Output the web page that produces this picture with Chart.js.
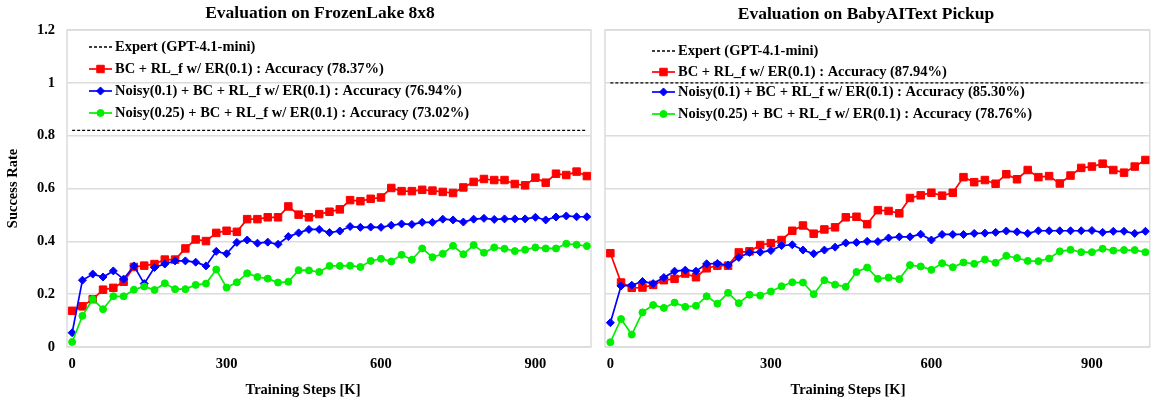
<!DOCTYPE html>
<html>
<head>
<meta charset="utf-8">
<script src="https://cdn.jsdelivr.net/npm/chart.js@4.4.1/dist/chart.umd.min.js"></script>
<style>
  html, body { margin: 0; padding: 0; background: #fff; }
  .box { position: absolute; left: 0; top: 0; width: 1156px; height: 403px; }
</style>
</head>
<body>
<div class="box"><canvas id="lake"></canvas></div>
<div class="box"><canvas id="baby"></canvas></div>
<script>
// training steps [K]
const STEPS = [0, 20, 40, 60, 80, 100, 120, 140, 160, 180, 200, 220, 240, 260, 280, 300, 320, 340, 360, 380,
  400, 420, 440, 460, 480, 500, 520, 540, 560, 580, 600, 620, 640, 660, 680, 700, 720, 740, 760, 780,
  800, 820, 840, 860, 880, 900, 920, 940, 960, 980, 1000];
const X_TICKS = [0, 300, 600, 900];

// FrozenLake 8x8
const EXPERT_LAKE = 0.82;
const LAKE_BC = [0.137, 0.154, 0.181, 0.217, 0.224, 0.247, 0.303, 0.308, 0.314, 0.331,
  0.331, 0.373, 0.407, 0.401, 0.432, 0.440, 0.436, 0.484, 0.484, 0.491,
  0.491, 0.532, 0.501, 0.491, 0.503, 0.512, 0.521, 0.556, 0.552, 0.561,
  0.566, 0.602, 0.590, 0.590, 0.595, 0.592, 0.587, 0.583, 0.604, 0.625,
  0.636, 0.632, 0.632, 0.617, 0.612, 0.641, 0.622, 0.656, 0.651, 0.664, 0.647];
const LAKE_N10 = [0.054, 0.253, 0.276, 0.265, 0.288, 0.257, 0.307, 0.240, 0.301, 0.314,
  0.326, 0.326, 0.321, 0.307, 0.362, 0.353, 0.396, 0.405, 0.393, 0.397,
  0.389, 0.418, 0.432, 0.445, 0.445, 0.433, 0.439, 0.456, 0.453, 0.454,
  0.453, 0.461, 0.466, 0.464, 0.472, 0.472, 0.484, 0.481, 0.473, 0.484,
  0.487, 0.483, 0.485, 0.485, 0.485, 0.491, 0.481, 0.492, 0.496, 0.493, 0.493];
const LAKE_N25 = [0.019, 0.118, 0.181, 0.143, 0.192, 0.192, 0.217, 0.229, 0.216, 0.241,
  0.219, 0.219, 0.235, 0.240, 0.293, 0.225, 0.245, 0.279, 0.265, 0.259,
  0.244, 0.247, 0.291, 0.290, 0.284, 0.307, 0.307, 0.308, 0.303, 0.326,
  0.334, 0.324, 0.349, 0.330, 0.373, 0.340, 0.353, 0.383, 0.351, 0.386,
  0.357, 0.377, 0.372, 0.363, 0.368, 0.377, 0.373, 0.373, 0.391, 0.387, 0.382];

// BabyAIText Pickup
const EXPERT_BABY = 1.0;
const BABY_BC = [0.355, 0.244, 0.224, 0.225, 0.235, 0.253, 0.258, 0.278, 0.264, 0.298,
  0.308, 0.308, 0.358, 0.362, 0.386, 0.393, 0.405, 0.440, 0.460, 0.429,
  0.445, 0.453, 0.491, 0.493, 0.465, 0.518, 0.515, 0.506, 0.564, 0.574,
  0.584, 0.573, 0.584, 0.643, 0.624, 0.632, 0.618, 0.654, 0.635, 0.670,
  0.643, 0.647, 0.619, 0.649, 0.678, 0.683, 0.694, 0.670, 0.660, 0.683, 0.708];
const BABY_N10 = [0.092, 0.231, 0.234, 0.248, 0.240, 0.263, 0.287, 0.291, 0.287, 0.315,
  0.316, 0.310, 0.339, 0.358, 0.359, 0.365, 0.384, 0.387, 0.367, 0.353,
  0.367, 0.378, 0.394, 0.396, 0.400, 0.399, 0.413, 0.417, 0.417, 0.427,
  0.405, 0.426, 0.426, 0.426, 0.430, 0.431, 0.434, 0.439, 0.436, 0.430,
  0.440, 0.440, 0.440, 0.440, 0.440, 0.441, 0.434, 0.438, 0.438, 0.430, 0.438];
const BABY_N25 = [0.018, 0.106, 0.047, 0.131, 0.159, 0.148, 0.168, 0.152, 0.156, 0.192,
  0.164, 0.205, 0.166, 0.198, 0.195, 0.210, 0.230, 0.245, 0.244, 0.200,
  0.253, 0.236, 0.228, 0.284, 0.301, 0.258, 0.263, 0.257, 0.310, 0.305,
  0.292, 0.317, 0.302, 0.320, 0.315, 0.331, 0.319, 0.345, 0.337, 0.326,
  0.325, 0.335, 0.362, 0.368, 0.359, 0.359, 0.372, 0.365, 0.367, 0.367, 0.359];

const FONT = '"Liberation Serif", "Times New Roman", serif';
Chart.defaults.font.family = FONT;
Chart.defaults.color = '#000';

// рамка, заголовки и легенда внутри области графика
const decor = {
  id: 'decor',
  beforeDatasetsDraw(chart, args, o) {
    const a = chart.chartArea, ctx = chart.ctx;
    ctx.save();
    ctx.strokeStyle = '#dcdcdc';
    ctx.lineWidth = 1.5;
    ctx.strokeRect(a.left, a.top, a.right - a.left, a.bottom - a.top);
    ctx.restore();
  },
  afterDraw(chart, args, o) {
    const ctx = chart.ctx;
    ctx.save();
    ctx.fillStyle = '#000';
    ctx.textAlign = 'center';
    ctx.textBaseline = 'middle';
    ctx.font = 'bold 17.5px ' + FONT;
    ctx.fillText(o.title, o.titleX, o.titleY);
    ctx.font = 'bold 14.5px ' + FONT;
    ctx.fillText(o.xTitle, o.xTitleX, o.xTitleY);

    ctx.textAlign = 'left';
    chart.data.datasets.forEach((ds, k) => {
      const y = o.rows[k];
      ctx.save();
      ctx.strokeStyle = ds.borderColor;
      ctx.lineWidth = ds.borderWidth;
      ctx.setLineDash(ds.borderDash || []);
      ctx.beginPath();
      ctx.moveTo(o.sampleX, y);
      ctx.lineTo(o.sampleX + 23, y);
      ctx.stroke();
      ctx.restore();
      if (ds.pointRadius > 0) {
        ctx.fillStyle = ds.backgroundColor;
        ctx.strokeStyle = ds.borderColor;
        ctx.lineWidth = 1;
        Chart.helpers.drawPoint(ctx, {pointStyle: ds.pointStyle, radius: ds.pointRadius, borderWidth: 1}, o.sampleX + 11.5, y);
      }
      ctx.fillStyle = '#000';
      ctx.fillText(ds.label, o.textX, y);
    });
    ctx.restore();
  }
};

function series(label, values, color, style, radius, order) {
  return {
    label: label,
    data: STEPS.map((s, i) => ({x: s, y: values[i]})),
    borderColor: color,
    backgroundColor: color,
    borderWidth: 1.7,
    pointStyle: style,
    pointRadius: radius,
    pointBorderWidth: 1,
    order: order
  };
}

function expert(value) {
  return {
    label: 'Expert (GPT-4.1-mini)',
    data: [{x: 0, y: value}, {x: 1000, y: value}],
    borderColor: '#000',
    backgroundColor: '#000',
    borderWidth: 1.3,
    borderDash: [3, 2],
    pointRadius: 0,
    order: 0
  };
}

function makeChart(id, sets, showY, padding, deco) {
  new Chart(document.getElementById(id), {
    type: 'line',
    data: {datasets: sets},
    plugins: [decor],
    options: {
      responsive: true,
      maintainAspectRatio: false,
      animation: false,
      events: [],
      layout: {padding: padding},
      plugins: {legend: {display: false}, tooltip: {enabled: false}, decor: deco},
      scales: {
        x: {
          type: 'linear',
          min: -10,
          max: 1008,
          afterBuildTicks: s => { s.ticks = X_TICKS.map(v => ({value: v})); },
          afterFit: s => { s.height = 56; },
          grid: {display: false, drawTicks: false},
          border: {display: false},
          ticks: {font: {size: 14.5, weight: 'bold'}, padding: 8.5}
        },
        y: {
          min: 0,
          max: 1.2,
          afterFit: s => { s.width = showY ? 67 : 0; },
          grid: {color: '#dcdcdc', lineWidth: 1.5, drawTicks: false},
          border: {display: false},
          ticks: {
            display: showY,
            stepSize: 0.2,
            padding: 12,
            font: {size: 14.5, weight: 'bold'},
            callback: v => String(Number(v.toFixed(1)))
          },
          title: {
            display: showY,
            text: 'Success Rate',
            font: {size: 14.5, weight: 'bold'},
            padding: {top: 5, bottom: 0}
          }
        }
      }
    }
  });
}

makeChart('lake', [
  expert(EXPERT_LAKE),
  series('BC + RL_f w/ ER(0.1) : Accuracy (78.37%)', LAKE_BC, '#ff0000', 'rect', 5.3, 3),
  series('Noisy(0.1) + BC + RL_f w/ ER(0.1) : Accuracy (76.94%)', LAKE_N10, '#0000ff', 'rectRot', 4, 2),
  series('Noisy(0.25) + BC + RL_f w/ ER(0.1) : Accuracy (73.02%)', LAKE_N25, '#00ee00', 'circle', 3.5, 1)
], true, {top: 30, left: 0, right: 565, bottom: 0}, {
  title: 'Evaluation on FrozenLake 8x8', titleX: 320, titleY: 13,
  xTitle: 'Training Steps [K]', xTitleX: 303, xTitleY: 390,
  rows: [47, 69, 91, 113], sampleX: 89, textX: 115
});

makeChart('baby', [
  expert(EXPERT_BABY),
  series('BC + RL_f w/ ER(0.1) : Accuracy (87.94%)', BABY_BC, '#ff0000', 'rect', 5.3, 3),
  series('Noisy(0.1) + BC + RL_f w/ ER(0.1) : Accuracy (85.30%)', BABY_N10, '#0000ff', 'rectRot', 4, 2),
  series('Noisy(0.25) + BC + RL_f w/ ER(0.1) : Accuracy (78.76%)', BABY_N25, '#00ee00', 'circle', 3.5, 1)
], false, {top: 30, left: 605, right: 0, bottom: 0}, {
  title: 'Evaluation on BabyAIText Pickup', titleX: 866, titleY: 14,
  xTitle: 'Training Steps [K]', xTitleX: 848, xTitleY: 390,
  rows: [51, 72, 92, 114], sampleX: 652, textX: 678
});
</script>
</body>
</html>
